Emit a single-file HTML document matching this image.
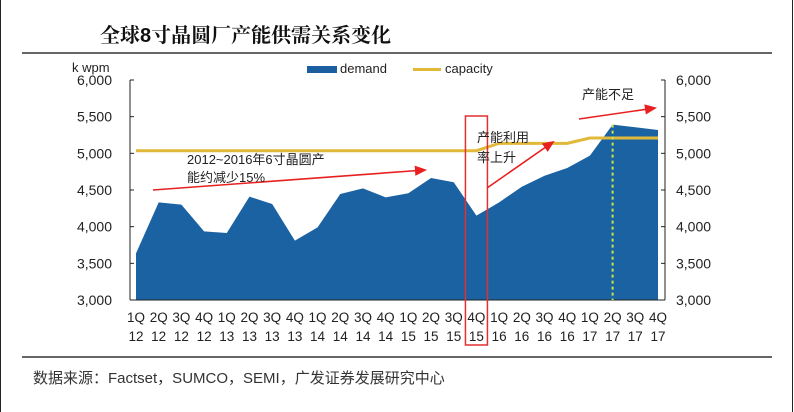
<!DOCTYPE html>
<html><head><meta charset="utf-8"><style>
body{margin:0;background:#fff;width:794px;height:412px;overflow:hidden}
svg{display:block;font-family:"Liberation Sans","Noto Sans CJK SC",sans-serif}
</style></head><body>
<svg width="794" height="412" viewBox="0 0 794 412">
<rect x="0.5" y="-1" width="792" height="420" fill="#fff" stroke="#222" stroke-width="1"/>
<text x="100" y="42" font-size="20" font-weight="bold" fill="#111" font-family="'Liberation Sans','Noto Serif CJK SC',serif">全球8寸晶圆厂产能供需关系变化</text>
<line x1="22" y1="53" x2="772" y2="53" stroke="#333" stroke-width="1.5"/>
<text x="72" y="72" font-size="13" fill="#222">k wpm</text>
<g id="legend">
<rect x="307" y="66" width="30" height="7" fill="#1b5fa0"/>
<text x="340" y="73" font-size="13" fill="#222">demand</text>
<line x1="413" y1="69.5" x2="441" y2="69.5" stroke="#e2b83a" stroke-width="3"/>
<text x="445" y="73" font-size="13" fill="#222">capacity</text>
</g>
<g id="plot"></g>
<line x1="22" y1="357" x2="772" y2="357" stroke="#333" stroke-width="1.5"/>
<text x="33" y="383" font-size="15" fill="#333">数据来源：Factset，SUMCO，SEMI，广发证券发展研究中心</text>
</svg>
<script>
const categories=["1Q 12","2Q 12","3Q 12","4Q 12","1Q 13","2Q 13","3Q 13","4Q 13","1Q 14","2Q 14","3Q 14","4Q 14","1Q 15","2Q 15","3Q 15","4Q 15","1Q 16","2Q 16","3Q 16","4Q 16","1Q 17","2Q 17","3Q 17","4Q 17"];
const demand=[3636,4332,4300,3936,3914,4409,4309,3809,3991,4445,4523,4400,4455,4664,4605,4150,4332,4545,4695,4800,4968,5391,5355,5318];
const capacity=[5036,5036,5036,5036,5036,5036,5036,5036,5036,5036,5036,5036,5036,5036,5036,5036,5136,5136,5136,5136,5209,5209,5209,5209];
const yTicks=[3000,3500,4000,4500,5000,5500,6000];
const NS="http://www.w3.org/2000/svg";
const g=document.getElementById('plot');
const X0=136,X1=658,Y0=300,Y1=80,VMIN=3000,VMAX=6000;
const xs=i=>X0+i*(X1-X0)/(categories.length-1);
const ys=v=>Y0-(v-VMIN)/(VMAX-VMIN)*(Y0-Y1);
function mk(t,a){const e=document.createElementNS(NS,t);for(const k in a)e.setAttribute(k,a[k]);g.appendChild(e);return e;}
// area
let d=`M${xs(0)},${Y0}`;demand.forEach((v,i)=>d+=` L${xs(i)},${ys(v)}`);d+=` L${xs(demand.length-1)},${Y0} Z`;
const area=mk('path',{d:d,fill:'#1b62a3'});


// capacity
const cl=mk('polyline',{points:capacity.map((v,i)=>xs(i)+','+ys(v)).join(' '),fill:'none',stroke:'#e2b83a','stroke-width':3});


// axes
const la=mk('line',{x1:130,y1:Y1,x2:130,y2:Y0,stroke:'#222'});


const ra=mk('line',{x1:665,y1:Y1,x2:665,y2:Y0,stroke:'#222'});


const xa=mk('line',{x1:130,y1:Y0,x2:665,y2:Y0,stroke:'#222'});


yTicks.forEach(v=>{
 const y=ys(v);
 const t1=mk('line',{x1:130,y1:y,x2:134,y2:y,stroke:'#222'});
 
 
 const t2=mk('line',{x1:661,y1:y,x2:665,y2:y,stroke:'#222'});
 
 
 const s=v.toLocaleString('en-US');
 const l=mk('text',{x:112,y:y+5,'font-size':14,'text-anchor':'end',fill:'#222'});l.textContent=s;
 
 
 const r=mk('text',{x:676,y:y+5,'font-size':14,fill:'#222'});r.textContent=s;
 
 
});
categories.forEach((c,i)=>{
 const p=c.split(' ');
 const t=mk('text',{x:xs(i),y:322,'font-size':13.5,'text-anchor':'middle',fill:'#222'});t.textContent=p[0];
 
 
 const t2=mk('text',{x:xs(i),y:341,'font-size':13.5,'text-anchor':'middle',fill:'#222'});t2.textContent=p[1];
 
 
});
// green dotted marker at 2Q17
const gl=mk('line',{x1:xs(21),y1:ys(demand[21]),x2:xs(21),y2:Y0,stroke:'#c8e64a','stroke-width':2,'stroke-dasharray':'3,3'});


// red highlight box at 4Q15
const rb=mk('rect',{x:xs(15)-11,y:116,width:22,height:229,fill:'none',stroke:'#e03030','stroke-width':1.5});


// arrows
function arrow(x1,y1,x2,y2,name){
 const a=Math.atan2(y2-y1,x2-x1),h=10;
 const e=mk('path',{d:`M${x1},${y1} L${x2},${y2} M${x2-h*Math.cos(a-0.4)},${y2-h*Math.sin(a-0.4)} L${x2},${y2} L${x2-h*Math.cos(a+0.4)},${y2-h*Math.sin(a+0.4)} Z`,stroke:'#e82020','stroke-width':1.6,fill:'#e82020'});
 
 
}
arrow(153,190,425,170,'arrow-decline');
arrow(487,188,553,142,'arrow-utilization');
arrow(579,119,655,108,'arrow-shortage');
function note(x,y,s,name){const t=mk('text',{x:x,y:y,'font-size':13,fill:'#222'});t.textContent=s;
 
 }
note(187,164,'2012~2016年6寸晶圆产','annotation-decline-1');
note(187,182,'能约减少15%','annotation-decline-2');
note(477,142,'产能利用','annotation-utilization-1');
note(477,162,'率上升','annotation-utilization-2');
note(582,99,'产能不足','annotation-shortage');
</script>
</body></html>
